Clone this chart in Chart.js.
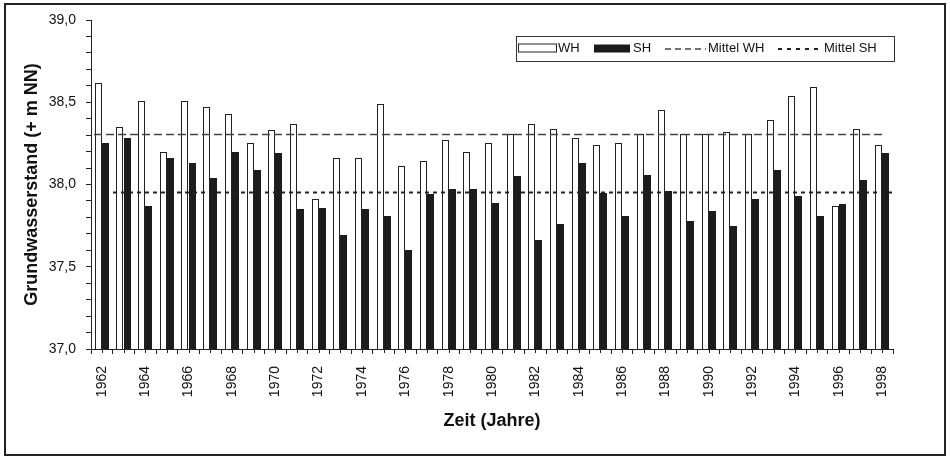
<!DOCTYPE html>
<html>
<head>
<meta charset="utf-8">
<script src="https://cdn.jsdelivr.net/npm/chart.js@4/dist/chart.umd.min.js"></script>
<style>
  html, body { margin: 0; padding: 0; background: #fff; }
  #wrap { width: 950px; height: 459px; }
</style>
</head>
<body>
<div id="wrap"><canvas id="c" width="950" height="459"></canvas></div>
<script>
// ---- data ----
const years = ["1962","1963","1964","1965","1966","1967","1968","1969","1970","1971","1972","1973","1974","1975","1976","1977","1978","1979","1980","1981","1982","1983","1984","1985","1986","1987","1988","1989","1990","1991","1992","1993","1994","1995","1996","1997","1998"];
const wh = [38.62,38.35,38.51,38.20,38.51,38.47,38.43,38.25,38.33,38.37,37.91,38.16,38.16,38.49,38.11,38.14,38.27,38.20,38.25,38.31,38.37,38.34,38.28,38.24,38.25,38.31,38.45,38.31,38.31,38.32,38.31,38.39,38.54,38.59,37.87,38.34,38.24];
const sh = [38.25,38.28,37.87,38.16,38.13,38.04,38.20,38.09,38.19,37.85,37.86,37.69,37.85,37.81,37.60,37.94,37.97,37.97,37.89,38.05,37.66,37.76,38.13,37.95,37.81,38.06,37.96,37.78,37.84,37.75,37.91,38.09,37.93,37.81,37.88,38.03,38.19];
const meanWH = 38.31;
const meanSH = 37.955;
const yMin = 37.0, yMax = 39.0, yStep = 0.1, yLabelStep = 0.5;
const legendLabels = ["WH", "SH", "Mittel WH", "Mittel SH"];

const FONT = "'Liberation Sans', Arial, sans-serif";

const framePlugin = {
  id: 'frame',
  beforeDraw(chart) {
    const ctx = chart.ctx;
    ctx.save();
    ctx.fillStyle = '#fff';
    ctx.fillRect(0, 0, chart.width, chart.height);
    ctx.restore();
  },
  afterDraw(chart) {
    const ctx = chart.ctx;
    ctx.save();
    ctx.strokeStyle = '#222';
    ctx.lineWidth = 2;
    ctx.strokeRect(5, 4, 940, 451);
    ctx.restore();
  }
};

// pixel-snap the bars computed by the library so thin outlines stay crisp
const snapPlugin = {
  id: 'snapBars',
  afterDatasetsUpdate(chart) {
    chart.data.datasets.forEach((ds, di) => {
      const meta = chart.getDatasetMeta(di);
      meta.data.forEach(el => {
        const w = Math.round(el.width);
        const left = Math.round(el.x - el.width / 2);
        el.width = w;
        el.x = left + w / 2;
        el.y = Math.round(el.y);
      });
    });
  }
};

const meanPlugin = {
  id: 'means',
  afterDatasetsDraw(chart) {
    const {ctx, chartArea: a, scales: {y}} = chart;
    ctx.save();
    let py = Math.round(y.getPixelForValue(meanWH)) + 0.5;
    ctx.strokeStyle = '#444';
    ctx.lineWidth = 1.5;
    ctx.setLineDash([8, 4]);
    ctx.beginPath(); ctx.moveTo(a.left + 3, py); ctx.lineTo(a.right - 8, py); ctx.stroke();
    py = Math.round(y.getPixelForValue(meanSH)) + 0.5;
    ctx.strokeStyle = '#222';
    ctx.lineWidth = 2;
    ctx.setLineDash([4, 4]);
    ctx.beginPath(); ctx.moveTo(a.left + 22, py); ctx.lineTo(a.right - 1, py); ctx.stroke();
    ctx.restore();
  }
};

const ticksPlugin = {
  id: 'minorTicks',
  afterDraw(chart) {
    const {ctx, chartArea: a, scales: {x}} = chart;
    ctx.save();
    ctx.strokeStyle = '#222';
    ctx.lineWidth = 1;
    for (let i = 0; i < years.length; i++) {
      const px = Math.round(x.getPixelForValue(i)) + 0.5;
      ctx.beginPath(); ctx.moveTo(px, a.bottom); ctx.lineTo(px, a.bottom + 4); ctx.stroke();
    }
    ctx.restore();
  }
};

const legendPlugin = {
  id: 'boxLegend',
  afterDraw(chart) {
    const {ctx, chartArea: a} = chart;
    const right = a.right + 1, top = a.top + 16;
    const w = 378, h = 25, left = right - w;
    const cy = top + h / 2;
    ctx.save();
    ctx.fillStyle = '#fff';
    ctx.fillRect(left, top, w, h);
    ctx.strokeStyle = '#333';
    ctx.lineWidth = 1;
    ctx.strokeRect(left + 0.5, top + 0.5, w, h);
    ctx.font = '13px ' + FONT;
    ctx.textBaseline = 'middle';
    ctx.fillStyle = '#111';
    ctx.strokeStyle = '#222';
    ctx.strokeRect(left + 2.5, cy - 4.5, 38, 8);
    ctx.fillText(legendLabels[0], left + 42, cy);
    ctx.fillStyle = '#1a1a1a';
    ctx.fillRect(left + 78, cy - 4, 36, 8);
    ctx.fillStyle = '#111';
    ctx.fillText(legendLabels[1], left + 117, cy);
    ctx.strokeStyle = '#444';
    ctx.lineWidth = 1.5;
    ctx.setLineDash([6, 4]);
    ctx.beginPath(); ctx.moveTo(left + 149, cy + 0.5); ctx.lineTo(left + 190, cy + 0.5); ctx.stroke();
    ctx.fillText(legendLabels[2], left + 192, cy);
    ctx.strokeStyle = '#222';
    ctx.lineWidth = 2;
    ctx.setLineDash([4, 5]);
    ctx.beginPath(); ctx.moveTo(left + 262, cy + 0.5); ctx.lineTo(left + 305, cy + 0.5); ctx.stroke();
    ctx.fillText(legendLabels[3], left + 308, cy);
    ctx.restore();
  }
};

new Chart(document.getElementById('c'), {
  type: 'bar',
  data: {
    labels: years,
    datasets: [
      { label: 'WH', data: wh, backgroundColor: '#ffffff', borderColor: '#222', borderWidth: 1,
        categoryPercentage: 0.65, barPercentage: 1.0 },
      { label: 'SH', data: sh, backgroundColor: '#1c1c1c', borderColor: '#1c1c1c', borderWidth: 1,
        categoryPercentage: 0.65, barPercentage: 1.0 }
    ]
  },
  options: {
    responsive: false,
    animation: false,
    devicePixelRatio: 1,
    layout: { padding: { top: 20, right: 57, left: 0, bottom: 0 } },
    plugins: { legend: { display: false }, tooltip: { enabled: false } },
    scales: {
      x: {
        grid: { display: true, drawOnChartArea: false, offset: true, tickLength: 5, color: '#222', lineWidth: 1 },
        border: { display: true, color: '#222', width: 1 },
        ticks: {
          autoSkip: false, minRotation: 90, maxRotation: 90, padding: 12,
          color: '#111', font: { family: FONT, size: 14 },
          callback: function(v, i) { return (i % 2 === 0) ? years[i] : ''; }
        },
        title: { display: true, text: 'Zeit (Jahre)', color: '#111',
          font: { family: FONT, size: 18, weight: 'bold' }, padding: { top: 4, bottom: 27 } },
        afterFit(scale) { scale.height = 110; }
      },
      y: {
        min: yMin, max: yMax,
        grid: { display: true, drawOnChartArea: false, tickLength: 5, color: '#222' },
        border: { display: true, color: '#222', width: 1 },
        ticks: {
          stepSize: yStep, autoSkip: false, padding: 10, color: '#111',
          font: { family: FONT, size: 14 },
          callback: function(v) {
            const r = v / yLabelStep;
            return Math.abs(r - Math.round(r)) < 1e-6 ? v.toFixed(1).replace('.', ',') : '';
          }
        },
        title: { display: true, text: 'Grundwasserstand (+ m NN)', color: '#111',
          font: { family: FONT, size: 18, weight: 'bold' }, padding: { top: 21, bottom: 4 } },
        afterFit(scale) { scale.width = 91; }
      }
    }
  },
  plugins: [framePlugin, snapPlugin, meanPlugin, ticksPlugin, legendPlugin]
});
</script>
</body>
</html>
